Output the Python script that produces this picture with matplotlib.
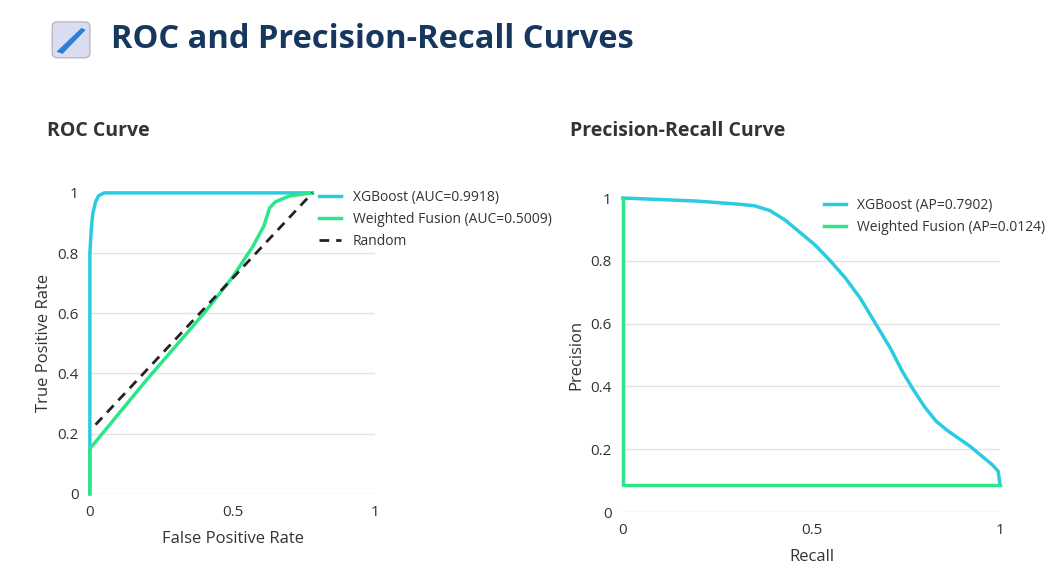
import matplotlib
matplotlib.use("Agg")
import matplotlib.pyplot as plt
from matplotlib.patches import FancyBboxPatch, Polygon

plt.rcParams['font.family'] = ['Open Sans', 'DejaVu Sans']

roc_xgb_x = [0, 0, 0.005, 0.01, 0.02, 0.03, 0.05, 0.78]
roc_xgb_y = [0, 0.80, 0.88, 0.93, 0.97, 0.99, 1.0, 1.0]
roc_wf_x = [0, 0, 0.1, 0.2, 0.3, 0.4, 0.5, 0.57, 0.61, 0.63, 0.65, 0.70, 0.78]
roc_wf_y = [0, 0.15, 0.265, 0.38, 0.49, 0.60, 0.72, 0.82, 0.89, 0.95, 0.97, 0.99, 1.0]
rand_x = [0.02, 0.78]
rand_y = [0.23, 1.0]
pr_xgb_x = [0, 0.2, 0.31, 0.35, 0.39, 0.43, 0.47, 0.51, 0.55, 0.59, 0.63, 0.67, 0.71, 0.74,
            0.77, 0.80, 0.83, 0.86, 0.89, 0.92, 0.95, 0.98, 0.995, 1.0]
pr_xgb_y = [1.0, 0.99, 0.98, 0.975, 0.96, 0.93, 0.89, 0.85, 0.80, 0.745, 0.68, 0.60, 0.52, 0.45,
            0.39, 0.335, 0.29, 0.26, 0.235, 0.21, 0.18, 0.15, 0.13, 0.086]
pr_wf_x = [0, 0, 1.0]
pr_wf_y = [1.0, 0.086, 0.086]

BLUE = '#2ccbe0'
GREEN = '#2ee58a'
GRID = '#e3e3e3'
TXT = '#333333'

fig = plt.figure(figsize=(10.45, 5.69), dpi=100)

ic = fig.add_axes([0.048, 0.895, 0.04, 0.07])
ic.set_xlim(0, 1); ic.set_ylim(0, 1); ic.axis('off')
ic.add_patch(FancyBboxPatch((0.05, 0.05), 0.9, 0.9, boxstyle="round,pad=0,rounding_size=0.12",
                            fc='#dcdcf0', ec='#b8b8cc', lw=1))
ic.add_patch(Polygon([[0.15, 0.2], [0.75, 0.8], [0.85, 0.75], [0.3, 0.15]], fc='#2a7fd8', ec='none'))
fig.text(0.106, 0.93, 'ROC and Precision-Recall Curves', fontsize=23.5, fontweight='bold',
         color='#17375e', va='center')
fig.text(0.045, 0.77, 'ROC Curve', fontsize=14, fontweight='bold', color=TXT, va='center')
fig.text(0.545, 0.77, 'Precision-Recall Curve', fontsize=14, fontweight='bold', color=TXT, va='center')

def style(ax):
    ax.set_xlim(0, 1); ax.set_ylim(0, 1)
    for s in ax.spines.values():
        s.set_visible(False)
    ax.tick_params(length=0, labelsize=11, colors=TXT, pad=8)
    ax.set_yticks([0, 0.2, 0.4, 0.6, 0.8, 1.0])
    ax.set_yticklabels(['0', '0.2', '0.4', '0.6', '0.8', '1'])
    ax.set_xticks([0, 0.5, 1.0]); ax.set_xticklabels(['0', '0.5', '1'])
    for v in [0, 0.2, 0.4, 0.6, 0.8]:
        ax.axhline(v, color=GRID, lw=1, zorder=0)

ax1 = fig.add_axes([0.086, 0.132, 0.273, 0.529])
style(ax1)
ax1.plot(roc_xgb_x, roc_xgb_y, color=BLUE, lw=2.5, label='XGBoost (AUC=0.9918)', clip_on=False)
ax1.plot(roc_wf_x, roc_wf_y, color=GREEN, lw=2.5, label='Weighted Fusion (AUC=0.5009)', clip_on=False)
ax1.plot(rand_x, rand_y, color='#222222', lw=2, ls=(0, (3.5, 2.5)), label='Random', clip_on=False)
ax1.set_xlabel('False Positive Rate', fontsize=12, color=TXT, labelpad=8)
ax1.set_ylabel('True Positive Rate', fontsize=12, color=TXT)
ax1.legend(loc='upper left', bbox_to_anchor=(0.76, 1.05), frameon=False, fontsize=10,
           handlelength=1.6, labelcolor=TXT)

ax2 = fig.add_axes([0.596, 0.100, 0.361, 0.552])
style(ax2)
ax2.plot(pr_xgb_x, pr_xgb_y, color=BLUE, lw=2.5, label='XGBoost (AP=0.7902)', clip_on=False)
ax2.plot(pr_wf_x, pr_wf_y, color=GREEN, lw=2.5, label='Weighted Fusion (AP=0.0124)', clip_on=False)
ax2.set_xlabel('Recall', fontsize=12, color=TXT, labelpad=8)
ax2.set_ylabel('Precision', fontsize=12, color=TXT)
ax2.legend(loc='upper left', bbox_to_anchor=(0.5, 1.04), frameon=False, fontsize=10,
           handlelength=1.6, labelcolor=TXT)

fig.savefig('out.png', dpi=100)
